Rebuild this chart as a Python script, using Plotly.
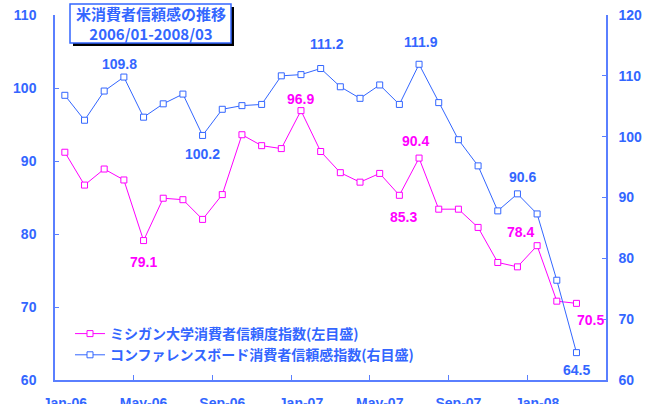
import plotly.graph_objects as go

# ---------------- data ----------------
months = ["Jan-06", "Feb-06", "Mar-06", "Apr-06", "May-06", "Jun-06", "Jul-06", "Aug-06",
          "Sep-06", "Oct-06", "Nov-06", "Dec-06", "Jan-07", "Feb-07", "Mar-07", "Apr-07",
          "May-07", "Jun-07", "Jul-07", "Aug-07", "Sep-07", "Oct-07", "Nov-07", "Dec-07",
          "Jan-08", "Feb-08", "Mar-08"]
michigan = [91.2, 86.7, 88.9, 87.4, 79.1, 84.9, 84.7, 82.0, 85.4, 93.6, 92.1, 91.7, 96.9,
            91.3, 88.4, 87.1, 88.3, 85.3, 90.4, 83.4, 83.4, 80.9, 76.1, 75.5, 78.4, 70.8, 70.5]
conference = [106.8, 102.7, 107.5, 109.8, 103.2, 105.4, 107.0, 100.2, 104.5, 105.1, 105.3,
              110.0, 110.2, 111.2, 108.2, 106.3, 108.5, 105.3, 111.9, 105.6, 99.5, 95.2,
              87.8, 90.6, 87.3, 76.4, 64.5]
tick_labels = ["Jan-06", "May-06", "Sep-06", "Jan-07", "May-07", "Sep-07", "Jan-08"]
left_ticks = [60, 70, 80, 90, 100, 110]
right_ticks = [60, 70, 80, 90, 100, 110, 120]

name_mich = "ミシガン大学消費者信頼度指数(左目盛)"
name_conf = "コンファレンスボード消費者信頼感指数(右目盛)"
title_lines = ["米消費者信頼感の推移", "2006/01-2008/03"]

# labelled points: (month, label offsets in px)
mich_labels = [("May-06", 0, -21), ("Jan-07", 0, 12), ("Jun-07", 4, -22),
               ("Jul-07", -4, 17), ("Jan-08", -17, 14), ("Mar-08", 14, -17)]
conf_labels = [("Apr-06", -4, 13), ("Aug-06", 0, -19), ("Feb-07", 6, 25),
               ("Jul-07", 2, 22), ("Dec-07", 5, 17), ("Mar-08", 0, -17)]

# ---------------- styling ----------------
BLUE = "#3366FF"
AXIS = "#5A7FFF"
MAG = "#FF00FF"
FONT = "Liberation Sans"
CJK = "Noto Sans CJK JP"

W, H = 653, 404
ML, MR, MT, MB = 55, 47, 15, 24
PW, PH = W - ML - MR, H - MT - MB

x = list(range(len(months)))
idx = {m: i for i, m in enumerate(months)}

fig = go.Figure()
fig.add_trace(go.Scatter(
    x=x, y=michigan, name=name_mich, mode="lines+markers",
    line=dict(color=MAG, width=1),
    marker=dict(symbol="square", size=6, color="white", line=dict(color=MAG, width=1)),
    yaxis="y"))
fig.add_trace(go.Scatter(
    x=x, y=conference, name=name_conf, mode="lines+markers",
    line=dict(color=BLUE, width=1),
    marker=dict(symbol="square", size=6, color="white", line=dict(color=BLUE, width=1)),
    yaxis="y2"))

annotations = []
for m, dx, dy in mich_labels:
    i = idx[m]
    annotations.append(dict(x=i, y=michigan[i], xref="x", yref="y", text=f"{michigan[i]:.1f}",
                            showarrow=False, xshift=dx, yshift=dy,
                            font=dict(family=FONT, size=14, color=MAG, weight="bold")))
for m, dx, dy in conf_labels:
    i = idx[m]
    annotations.append(dict(x=i, y=conference[i], xref="x", yref="y2", text=f"{conference[i]:.1f}",
                            showarrow=False, xshift=dx, yshift=dy,
                            font=dict(family=FONT, size=14, color=BLUE, weight="bold")))


def px_x(p):
    return (p - ML) / PW


def px_y(p):
    return (H - MB - p) / PH


# title box with shadow
box = (70, 4, 231, 43)
shapes = [
    dict(type="rect", xref="paper", yref="paper", layer="above",
         x0=px_x(box[0] + 3), x1=px_x(box[2] + 3), y0=px_y(box[3] + 3), y1=px_y(box[1] + 3),
         fillcolor="black", line=dict(width=0)),
    dict(type="rect", xref="paper", yref="paper", layer="above",
         x0=px_x(box[0]), x1=px_x(box[2]), y0=px_y(box[3]), y1=px_y(box[1]),
         fillcolor="white", line=dict(color=BLUE, width=1.5)),
]
annotations.append(dict(xref="paper", yref="paper", x=px_x((box[0] + box[2]) / 2),
                        y=px_y((box[1] + box[3]) / 2), xanchor="center", yanchor="middle",
                        text="<br>".join(title_lines), showarrow=False,
                        font=dict(family=CJK, size=15, color=BLUE, weight="bold")))

fig.update_layout(
    width=W, height=H,
    margin=dict(l=ML, r=MR, t=MT, b=MB, pad=0, autoexpand=False),
    paper_bgcolor="white", plot_bgcolor="white",
    showlegend=True,
    legend=dict(x=px_x(70), y=px_y(318), xanchor="left", yanchor="top",
                bgcolor="rgba(0,0,0,0)", itemwidth=30,
                font=dict(family=CJK, size=14, color=BLUE, weight="bold")),
    xaxis=dict(range=[-0.5, len(months) + 0.5], tickmode="array",
               tickvals=[idx[t] for t in tick_labels], ticktext=tick_labels,
               ticks="", showgrid=False, zeroline=False, automargin=False,
               showline=True, linecolor=AXIS, linewidth=1.5,
               ticklabelstandoff=9,
               tickfont=dict(family=FONT, size=14, color=BLUE, weight="bold"),
               minor=dict(tickmode="array",
                          tickvals=[idx[t] - 0.5 for t in tick_labels[1:]],
                          ticks="inside", ticklen=5, tickcolor=AXIS, tickwidth=1, showgrid=False)),
    yaxis=dict(range=[60, 110], tickmode="array", tickvals=left_ticks, automargin=False,
               ticks="inside", ticklen=4, tickcolor=AXIS, tickwidth=1,
               showgrid=False, zeroline=False, showline=True, linecolor=AXIS, linewidth=1.5,
               ticklabelstandoff=14,
               tickfont=dict(family=FONT, size=14, color=BLUE, weight="bold")),
    yaxis2=dict(range=[60, 120], tickmode="array", tickvals=right_ticks, overlaying="y",
                side="right", ticks="inside", ticklen=4, tickcolor=AXIS, tickwidth=1,
                automargin=False,
                showgrid=False, zeroline=False, showline=True, linecolor=AXIS, linewidth=1.5,
                ticklabelstandoff=8,
                tickfont=dict(family=FONT, size=14, color=BLUE, weight="bold")),
    annotations=annotations,
    shapes=shapes,
)

fig.write_html("out.html", config={"displayModeBar": False},
               post_script="document.body.style.margin='0';document.body.style.overflow='hidden';")
